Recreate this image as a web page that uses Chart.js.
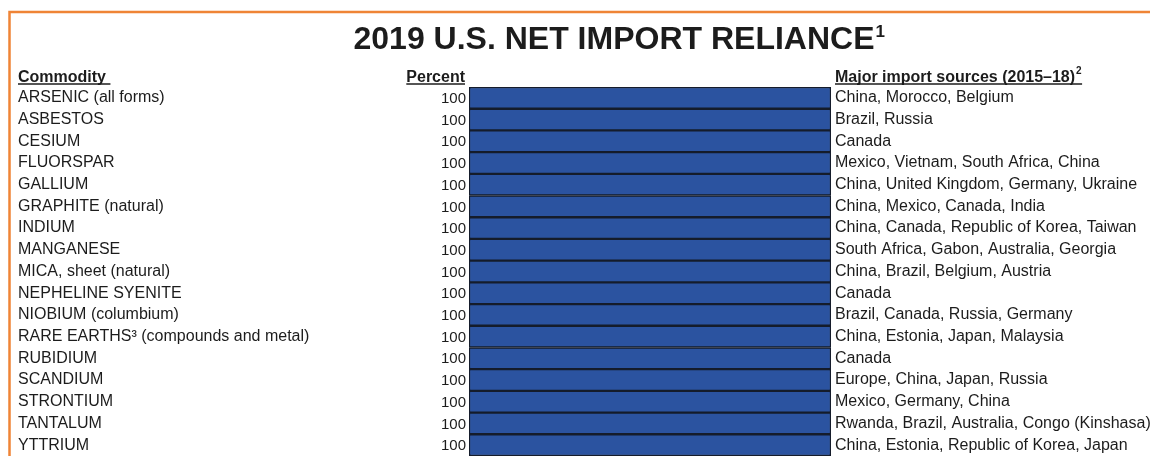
<!DOCTYPE html>
<html>
<head>
<meta charset="utf-8">
<title>2019 U.S. Net Import Reliance</title>
<script src="https://cdn.jsdelivr.net/npm/chart.js@4.4.1/dist/chart.umd.min.js"></script>
<style>
  body { margin: 0; background: #fff; }
  canvas { display: block; }
</style>
</head>
<body>
<canvas id="grafico" width="1150" height="456"></canvas>
<script>
const commodities = [
  "ARSENIC (all forms)",
  "ASBESTOS",
  "CESIUM",
  "FLUORSPAR",
  "GALLIUM",
  "GRAPHITE (natural)",
  "INDIUM",
  "MANGANESE",
  "MICA, sheet (natural)",
  "NEPHELINE SYENITE",
  "NIOBIUM (columbium)",
  "RARE EARTHS\u00B3 (compounds and metal)",
  "RUBIDIUM",
  "SCANDIUM",
  "STRONTIUM",
  "TANTALUM",
  "YTTRIUM"
];

const percents = [100, 100, 100, 100, 100, 100, 100, 100, 100, 100, 100, 100, 100, 100, 100, 100, 100];

const sources = [
  "China, Morocco, Belgium",
  "Brazil, Russia",
  "Canada",
  "Mexico, Vietnam, South Africa, China",
  "China, United Kingdom, Germany, Ukraine",
  "China, Mexico, Canada, India",
  "China, Canada, Republic of Korea, Taiwan",
  "South Africa, Gabon, Australia, Georgia",
  "China, Brazil, Belgium, Austria",
  "Canada",
  "Brazil, Canada, Russia, Germany",
  "China, Estonia, Japan, Malaysia",
  "Canada",
  "Europe, China, Japan, Russia",
  "Mexico, Germany, China",
  "Rwanda, Brazil, Australia, Congo (Kinshasa)",
  "China, Estonia, Republic of Korea, Japan"
];

const titulo = "2019 U.S. NET IMPORT RELIANCE";
const cabecalhos = ["Commodity", "Percent", "Major import sources (2015\u201318)"];

const FONTE = '"Liberation Sans", Arial, Helvetica, sans-serif';
const TEXTO = "#1c1c1c";

// moldura laranja, titulo e cabecalhos sublinhados
const decoracao = {
  id: "decoracao",
  beforeDraw(chart) {
    const ctx = chart.ctx;
    ctx.save();
    ctx.strokeStyle = "#ef8436";
    ctx.lineWidth = 2.5;
    ctx.beginPath();
    ctx.moveTo(9.5, chart.height);
    ctx.lineTo(9.5, 12);
    ctx.lineTo(chart.width, 12);
    ctx.stroke();
    ctx.restore();
  },
  afterDraw(chart) {
    const ctx = chart.ctx;
    const area = chart.chartArea;
    ctx.save();
    ctx.fillStyle = TEXTO;
    ctx.strokeStyle = TEXTO;
    ctx.textBaseline = "alphabetic";

    // titulo
    ctx.font = "bold 32px " + FONTE;
    ctx.textAlign = "left";
    const larg = ctx.measureText(titulo).width;
    const xt = 614 - larg / 2;
    ctx.fillText(titulo, xt, 49);
    ctx.font = "bold 17px " + FONTE;
    ctx.fillText("1", xt + larg + 1, 37);

    // cabecalhos
    ctx.font = "bold 16px " + FONTE;
    ctx.lineWidth = 1.5;
    const sublinhar = (x0, x1) => {
      ctx.beginPath();
      ctx.moveTo(x0, 84);
      ctx.lineTo(x1, 84);
      ctx.stroke();
    };

    ctx.textAlign = "left";
    ctx.fillText(cabecalhos[0], 18, 82);
    sublinhar(18, 18 + ctx.measureText(cabecalhos[0] + " ").width);

    ctx.textAlign = "right";
    const wp = ctx.measureText(cabecalhos[1]).width;
    ctx.fillText(cabecalhos[1], area.left - 4, 82);
    sublinhar(area.left - 4 - wp, area.left - 4);

    ctx.textAlign = "left";
    const xm = area.right + 4;
    const wm = ctx.measureText(cabecalhos[2]).width;
    ctx.fillText(cabecalhos[2], xm, 82);
    ctx.font = "bold 10px " + FONTE;
    ctx.fillText("2", xm + wm + 1, 74);
    sublinhar(xm, xm + wm + 7);

    ctx.restore();
  },
  afterDatasetsDraw(chart) {
    const ctx = chart.ctx;
    const meta = chart.getDatasetMeta(0);
    ctx.save();
    ctx.font = "15px " + FONTE;
    ctx.fillStyle = TEXTO;
    ctx.textAlign = "right";
    ctx.textBaseline = "middle";
    meta.data.forEach((barra, i) => {
      ctx.fillText(String(percents[i]), chart.chartArea.left - 3, barra.y + 1);
    });
    ctx.restore();
  }
};

// largura fixa dos eixos e sem margem extra em cima/baixo
function ajustarEixo(largura) {
  return (scale) => {
    scale.width = largura;
    scale.paddingTop = 0;
    scale.paddingBottom = 0;
  };
}

new Chart(document.getElementById("grafico"), {
  type: "bar",
  data: {
    labels: commodities,
    datasets: [{
      data: percents,
      backgroundColor: "#2b53a0",
      borderColor: "#151c2b",
      borderWidth: 1.5,
      borderSkipped: false,
      barPercentage: 1,
      categoryPercentage: 1
    }]
  },
  options: {
    indexAxis: "y",
    responsive: false,
    animation: false,
    layout: { padding: { left: 18, right: 0, top: 87, bottom: 0 } },
    plugins: {
      legend: { display: false },
      tooltip: { enabled: false }
    },
    scales: {
      x: { type: "linear", min: 0, max: 100, display: false },
      y: {
        position: "left",
        grid: { display: false, drawTicks: false },
        border: { display: false },
        ticks: {
          autoSkip: false,
          crossAlign: "far",
          padding: 0,
          color: TEXTO,
          font: { family: FONTE, size: 16 }
        },
        afterFit: ajustarEixo(451)
      },
      y2: {
        type: "category",
        position: "right",
        labels: sources,
        offset: true,
        grid: { display: false, drawTicks: false },
        border: { display: false },
        ticks: {
          autoSkip: false,
          crossAlign: "near",
          padding: 4,
          color: TEXTO,
          font: { family: FONTE, size: 16 }
        },
        afterFit: ajustarEixo(319)
      }
    }
  },
  plugins: [decoracao]
});
</script>
</body>
</html>
